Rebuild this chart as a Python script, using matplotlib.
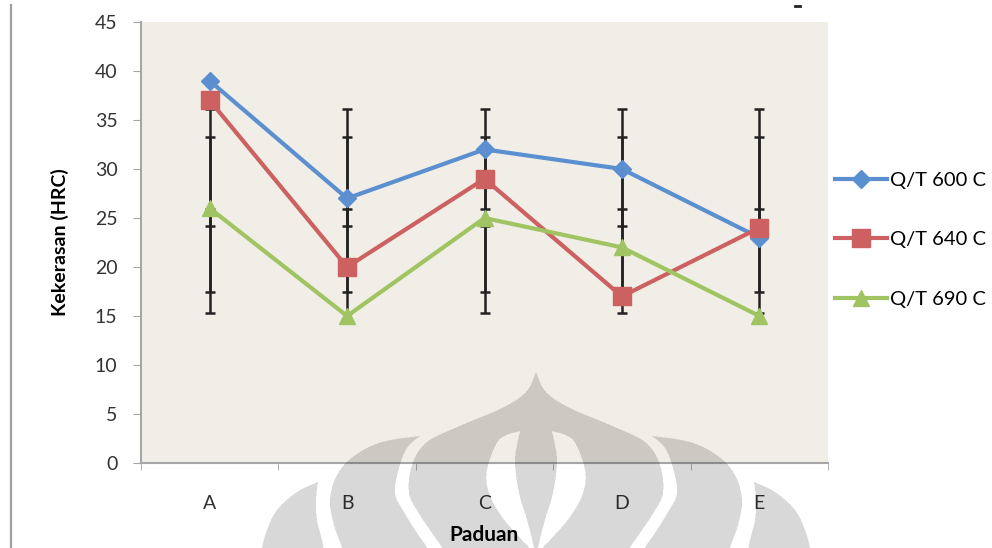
import numpy as np
import matplotlib
matplotlib.use('Agg')
import matplotlib.pyplot as plt
from matplotlib.path import Path
from matplotlib.lines import Line2D

plt.rcParams['font.family'] = ['Lato', 'DejaVu Sans']

# hardness per alloy for each tempering temperature
paduan = ['A', 'B', 'C', 'D', 'E']
series_names = ['Q/T 600 C', 'Q/T 640 C', 'Q/T 690 C']
hrc_600 = [39, 27, 32, 30, 23]
hrc_640 = [37, 20, 29, 17, 24]
hrc_690 = [26, 15, 25, 22, 15]

# error bar ranges (low, high) for each series
err_600 = (17.4, 36.1)
err_640 = (15.3, 33.3)
err_690 = (24.2, 25.9)

y_ticks = list(range(0, 46, 5))

colors = ['#5b8fd0', '#cd6060', '#a0c462']
markers = ['D', 's', '^']
msizes = [9, 13, 12]

W, H = 992, 548
fig = plt.figure(figsize=(W / 100, H / 100), dpi=100)
ax = fig.add_axes([141 / W, 1 - 463 / H, 687 / W, 441 / H])
ax.set_facecolor('#f0eee6')

x = np.arange(len(paduan))
for vals, err, c, m, ms, name in zip([hrc_600, hrc_640, hrc_690], [err_600, err_640, err_690],
                                    colors, markers, msizes, series_names):
    lo, hi = err
    mid = np.full(len(x), (lo + hi) / 2)
    ax.errorbar(x, mid, yerr=(hi - lo) / 2, fmt='none', ecolor='#222222',
                elinewidth=1.8, capsize=3.6, capthick=1.8, zorder=1.5)
    ax.plot(x, vals, color=c, marker=m, markersize=ms, linewidth=3, label=name, zorder=3)

ax.set_xlim(-0.5, len(paduan) - 0.5)
ax.set_ylim(0, 45)
ax.set_yticks(y_ticks)
ax.set_xticks(x)
ax.set_xticklabels(paduan)
ax.set_xticks(np.arange(-0.5, len(paduan), 1), minor=True)

for s in ['top', 'right']:
    ax.spines[s].set_visible(False)
for s in ['left', 'bottom']:
    ax.spines[s].set_color('#a6a6a6')
    ax.spines[s].set_linewidth(1.5)

ax.tick_params(axis='y', length=6, color='#a6a6a6', pad=11, labelsize=14, labelcolor='#333333')
ax.tick_params(axis='x', which='major', length=0, pad=23, labelsize=14, labelcolor='#333333')
ax.tick_params(axis='x', which='minor', length=5, color='#a6a6a6')

fig.text(60 / W, 1 - 242 / H, 'Kekerasan (HRC)', rotation=90, ha='center', va='center',
         fontsize=14, fontweight='bold')
fig.text(484 / W, 1 - 535 / H, 'Paduan', ha='center', va='center',
         fontsize=15, fontweight='bold')

ax.legend(loc='center left', bbox_to_anchor=(1.01, 0.506), frameon=False, fontsize=14.5,
          handlelength=2.6, handletextpad=0.15, labelspacing=2.12, borderaxespad=0,
          borderpad=0, numpoints=1)

# frame line on the left and small mark at the top
fig.add_artist(Line2D([11 / W, 11 / W], [0, 1 - 5 / H], color='#a0a0a0', linewidth=1.6))
fig.add_artist(Line2D([795 / W, 800 / W], [1 - 6 / H, 1 - 6 / H], color='#222222', linewidth=2))


# watermark logo drawn as a multiply-style overlay
def smooth(pts, n=12):
    p = np.array(pts, dtype=float)
    p = np.vstack([p[0], p, p[-1]])
    out = []
    for i in range(1, len(p) - 2):
        p0, p1, p2, p3 = p[i - 1], p[i], p[i + 1], p[i + 2]
        for t in np.linspace(0, 1, n, endpoint=False):
            t2, t3 = t * t, t * t * t
            out.append(0.5 * ((2 * p1) + (-p0 + p2) * t + (2 * p0 - 5 * p1 + 4 * p2 - p3) * t2
                              + (-p0 + 3 * p1 - 3 * p2 + p3) * t3))
    out.append(p[-2])
    return np.array(out)


def mirror(a):
    b = a.copy()
    b[:, 0] = 1072 - b[:, 0]
    return b


def shape(edge_a, edge_b):
    a = smooth(edge_a)
    b = smooth(edge_b)
    return np.vstack([a, b[::-1]])


onion_r = smooth([(536, 372), (546, 392), (570, 408), (610, 425), (645, 442), (660, 465),
                  (663, 493), (654, 512), (640, 533), (630, 548), (625, 565)])
onion = np.vstack([onion_r, mirror(onion_r)[::-1]])
cres = shape([(552, 431), (573, 440), (585, 470), (583, 493), (570, 517), (550, 540), (543, 548), (540, 565)],
             [(552, 431), (557, 460), (553, 493), (545, 520), (538, 548), (536, 565)])
lobe = shape([(652, 436), (690, 442), (718, 456), (735, 475), (742, 500), (738, 525), (730, 548), (727, 565)],
             [(652, 436), (665, 448), (673, 468), (677, 493), (668, 512), (655, 533), (645, 548), (640, 565)])
outer = shape([(754, 482), (775, 492), (795, 510), (805, 530), (810, 548), (812, 565)],
              [(754, 482), (756, 500), (755, 520), (750, 540), (745, 565)])

ss = 2
gx, gy = np.meshgrid((np.arange(W * ss) + 0.5) / ss, (np.arange(H * ss) + 0.5) / ss)
pts = np.column_stack([gx.ravel(), gy.ravel()])


def inside(poly):
    return Path(poly).contains_points(pts).reshape(H * ss, W * ss)


mask = inside(onion) & ~inside(cres) & ~inside(mirror(cres))
for poly in [lobe, mirror(lobe), outer, mirror(outer)]:
    mask |= inside(poly)
cover = mask.reshape(H, ss, W, ss).mean(axis=(1, 3))
overlay = np.zeros((H, W, 4))
overlay[..., 3] = cover * 0.153
fig.figimage(overlay, 0, 0, origin='upper', zorder=10)

fig.savefig('out.png', dpi=100)
